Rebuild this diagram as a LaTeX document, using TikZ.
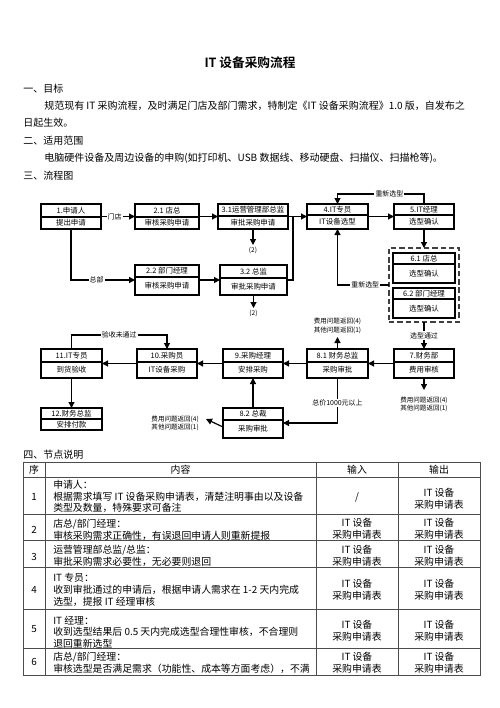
\documentclass[tikz,border=0pt]{standalone}
\usepackage{fontspec}
\setmainfont{Noto Sans CJK SC}[BoldFont={Noto Sans CJK SC Bold}]
\usetikzlibrary{arrows.meta}
\tikzset{
  fbox/.style={draw=black, line width=1.1pt, outer sep=0pt, inner sep=0pt, fill=white},
  fdiv/.style={line width=0.9pt},
  ftxt/.style={font=\fontsize{5.6pt}{6.5pt}\selectfont, inner sep=0pt},
  conn/.style={line width=0.9pt},
  arr/.style={conn, -{Triangle[length=4.5pt,width=4.5pt]}},
  onlbl/.style={font=\fontsize{5.2pt}{6pt}\selectfont, fill=white, inner sep=0.8pt},
  note/.style={font=\fontsize{4.9pt}{6.5pt}\selectfont, inner sep=0pt, align=center},
  body/.style={font=\fontsize{7.5pt}{9pt}\selectfont, inner sep=0pt, anchor=west},
  cell/.style={font=\fontsize{7.4pt}{8.8pt}\selectfont, inner sep=0pt, align=left, anchor=west},
  ccell/.style={font=\fontsize{7.4pt}{9pt}\selectfont, inner sep=0pt, align=center},
  tline/.style={line width=0.5pt, draw=black!70},
  grpbox/.style={draw=black!75, dash pattern=on 4pt off 2.2pt, line width=1.1pt, outer sep=0pt, inner sep=0pt}
}
% name, left, top, right, divider, bottom, title, sub
\newcommand\fcbox[8]{%
  \node[fbox, anchor=north west, minimum width={(#4-#2)*0.75pt}, minimum height={(#6-#3)*0.75pt}] (#1) at (#2,#3) {};
  \draw[fdiv] (#2,#5) -- (#4,#5);
  \node[ftxt] (#1-t) at ({(#2+#4)/2},{(#3+#5)/2}) {#7};
  \node[ftxt] (#1-b) at ({(#2+#4)/2},{(#5+#6)/2}) {#8};
}
\begin{document}
\begin{tikzpicture}[x=0.75pt,y=-0.75pt]
\fill[white] (0,0) rectangle (500,708);
\useasboundingbox (0,0) rectangle (500,708);

% ---------- header text ----------
\node[font=\fontsize{9.5pt}{11pt}\selectfont\bfseries, inner sep=0pt] (title) at (250,63) {IT 设备采购流程};
\node[body] (s1) at (23,89) {一、目标};
\node[body] (p1) at (44,106) {规范现有 IT 采购流程，及时满足门店及部门需求，特制定《IT 设备采购流程》1.0 版，自发布之};
\node[body] (p1b) at (23,123) {日起生效。};
\node[body] (s2) at (23,141) {二、适用范围};
\node[body] (p2) at (44,158) {电脑硬件设备及周边设备的申购(如打印机、USB 数据线、移动硬盘、扫描仪、扫描枪等)。};
\node[body] (s3) at (23,176) {三、流程图};

% ---------- flowchart ----------
\fcbox{n1}{41}{204}{101}{217}{229}{1.申请人}{提出申请}
\fcbox{n21}{135}{204}{199}{217}{229}{2.1 店总}{审核采购申请}
\fcbox{n31}{218}{204}{288}{216}{229}{3.1运营管理部总监}{审批采购申请}
\fcbox{n4}{307}{204}{368}{215}{229}{4.IT专员}{IT设备选型}
\fcbox{n5}{394}{204}{454}{215}{229}{5.IT经理}{选型确认}
\fcbox{n22}{135}{265}{199}{277}{295}{2.2 部门经理}{审核采购申请}
\fcbox{n32}{220}{265}{287}{278}{295}{3.2 总监}{审批采购申请}

\node[grpbox, anchor=north west, minimum width={70*0.75pt}, minimum height={74*0.75pt}] (grp) at (389,248) {};
\fcbox{n61}{393}{253}{455}{264}{283}{6.1 店总}{选型确认}
\fcbox{n62}{393}{288}{455}{299}{318}{6.2 部门经理}{选型确认}

\fcbox{n7}{394}{349}{454}{362}{378}{7.财务部}{费用审核}
\fcbox{n81}{307}{349}{368}{362}{378}{8.1 财务总监}{采购审批}
\fcbox{n9}{223}{349}{283}{362}{378}{9.采购经理}{安排采购}
\fcbox{n10}{137}{349}{197}{362}{378}{10.采购员}{IT设备采购}
\fcbox{n11}{41}{349}{102}{362}{378}{11.IT专员}{到货验收}
\fcbox{n12}{41}{408}{102}{419}{430}{12.财务总监}{安排付款}
\fcbox{n82}{223}{408}{283}{420}{438}{8.2 总裁}{采购审批}

% connectors row 1/2
\draw[arr] (n1.east) -- node[onlbl, pos=0.4] (l1) {门店} (n21.west);
\draw[arr] (n1.south) |- node[onlbl, pos=0.7] (l2) {总部} (n22.west);
\draw[arr] (n21.east) -- (n31.west);
\draw[arr] (n22.east) -- (n32.west);
\draw[arr] (n31.east) -- (n4.west);
\coordinate (j1) at (293,216.5);
\draw[conn] (n32.east) -| (j1);
\draw[arr] (n4.east) -- (n5.west);

\coordinate (c31) at (253,245);
\draw[arr] (n31.south) -- (c31);
\node[note, anchor=north] (t31) at (253,247) {(2)};
\coordinate (c32) at (253.5,308);
\draw[arr] (n32.south) -- (c32);
\node[note, anchor=north] (t32) at (253.5,310) {(2)};

\coordinate (r1) at (424,194);
\draw[arr] (n5.north) -- (r1) -| node[onlbl, pos=0.2] (l3) {重新选型} (n4.north);
\draw[arr] (n5.south) -- (grp.north);
\draw[arr] (grp.west) -| node[onlbl, pos=0.23] (l4) {重新选型} (n4.south);
\draw[arr] (grp.south) -- node[onlbl] (l5) {选型通过} (n7.north);

% row 3
\draw[arr] (n7.west) -- (n81.east);
\draw[arr] (n81.west) -- (n9.east);
\draw[arr] (n9.west) -- (n10.east);
\draw[arr] (n10.west) -- (n11.east);
\draw[arr] (n11.south) -- (n12.north);
\coordinate (r2) at (71.5,335);
\draw[arr] (n11.north) -- (r2) -| node[onlbl, pos=0.25] (l6) {验收未通过} (n10.north);

\coordinate (c81) at (337.5,337);
\draw[arr] (n81.north) -- (c81);
\node[note, anchor=south] (t81) at (337.5,334) {费用问题返回(4)\\其他问题返回(1)};

\coordinate (c7) at (424,390);
\draw[arr] (n7.south) -- (c7);
\node[note] (t7) at (424,404.5) {费用问题返回(4)\\其他问题返回(1)};

\draw[arr] (n81.south) |- node[onlbl, pos=0.28] (l7) {总价1000元以上} (n82.east);
\draw[arr] (n82.north) -- (n9.south);
\coordinate (c82) at (206,419);
\draw[arr] ([yshift=-3pt]n82.west) -- (c82);
\node[note, anchor=east] (t82) at (199,423.5) {费用问题返回(4)\\其他问题返回(1)};

% ---------- table ----------
\node[body] (s4) at (23,455) {四、节点说明};
\draw[tline] (23,462) rectangle (480,675);
\foreach \yy in {477,514,540,567,609,648} \draw[tline] (23,\yy) -- (480,\yy);
\foreach \xx in {45,316,398} \draw[tline] (\xx,462) -- (\xx,675);

\node[ccell] (h1) at (34,469.5) {序};
\node[ccell] (h2) at (180.5,469.5) {内容};
\node[ccell] (h3) at (357,469.5) {输入};
\node[ccell] (h4) at (439,469.5) {输出};

\node[ccell] (k1) at (34,497) {1};
\node[cell] (c1) at (53,496.5) {申请人：\\根据需求填写 IT 设备采购申请表，清楚注明事由以及设备\\类型及数量，特殊要求可备注};
\node[ccell] (i1) at (357,497) {/};
\node[ccell] (o1) at (439,499) {IT 设备\\采购申请表};

\node[ccell] (k2) at (34,530) {2};
\node[cell] (c2) at (53,529.5) {店总/部门经理：\\审核采购需求正确性，有误退回申请人则重新提报};
\node[ccell] (i2) at (357,529) {IT 设备\\采购申请表};
\node[ccell] (o2) at (439,529) {IT 设备\\采购申请表};

\node[ccell] (k3) at (34,557) {3};
\node[cell] (c3) at (53,556) {运营管理部总监/总监：\\审批采购需求必要性，无必要则退回};
\node[ccell] (i3) at (357,556) {IT 设备\\采购申请表};
\node[ccell] (o3) at (439,556) {IT 设备\\采购申请表};

\node[ccell] (k4) at (34,590) {4};
\node[cell] (c4) at (53,590) {IT 专员：\\收到审批通过的申请后，根据申请人需求在 1-2 天内完成\\选型，提报 IT 经理审核};
\node[ccell] (i4) at (357,590) {IT 设备\\采购申请表};
\node[ccell] (o4) at (439,590) {IT 设备\\采购申请表};

\node[ccell] (k5) at (34,629) {5};
\node[cell] (c5) at (53,632) {IT 经理：\\收到选型结果后 0.5 天内完成选型合理性审核，不合理则\\退回重新选型};
\node[ccell] (i5) at (357,630.5) {IT 设备\\采购申请表};
\node[ccell] (o5) at (439,630.5) {IT 设备\\采购申请表};

\node[ccell] (k6) at (34,662) {6};
\node[cell] (c6) at (53,663) {店总/部门经理：\\审核选型是否满足需求（功能性、成本等方面考虑），不满};
\node[ccell] (i6) at (357,663) {IT 设备\\采购申请表};
\node[ccell] (o6) at (439,663) {IT 设备\\采购申请表};
\end{tikzpicture}
\end{document}
